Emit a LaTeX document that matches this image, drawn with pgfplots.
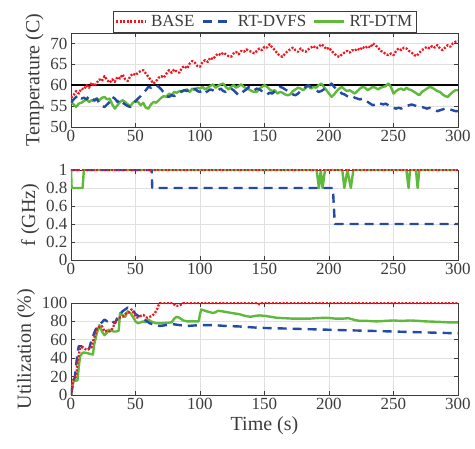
\documentclass[border=0pt]{standalone}
\usepackage{fontspec}
\setmainfont{Liberation Serif}
\usepackage{pgfplots}
\pgfplotsset{compat=1.18}
\definecolor{cred}{RGB}{245,20,30}
\definecolor{cblue}{RGB}{35,75,165}
\definecolor{cgreen}{RGB}{95,185,60}
\definecolor{axc}{RGB}{60,60,60}
\pgfplotsset{myax/.style={scale only axis, width=387pt, xmin=0, xmax=300,
  xtick={0,50,...,300}, grid=major, grid style={black!12, line width=0.7pt},
  axis line style={axc, line width=0.8pt}, tick align=inside, tick style={axc, line width=0.8pt},
  major tick length=4pt,
  ticklabel style={font=\fontsize{17}{17}\selectfont, text=axc},
  label style={font=\fontsize{20}{20}\selectfont, text=axc},
  /pgf/number format/assume math mode=true,
  every axis plot/.append style={line join=round}},
  pbase/.style={cred, line width=2.3pt, dash pattern=on 2pt off 1.6pt},
  pdvfs/.style={cblue, line width=2.4pt, dash pattern=on 9pt off 6pt},
  pdtm/.style={cgreen, line width=2.4pt}}
\begin{document}
\begin{tikzpicture}
\path[use as bounding box] (0,0) rectangle (475pt,449pt);
% ---------------- Temperature ----------------
\begin{axis}[myax, at={(71pt,322pt)}, anchor=south west, height=94pt,
  ymin=50, ymax=72.5, ytick={50,55,...,70}, ylabel={Temperature (C)},
  legend style={at={(0.5,1)}, anchor=south, yshift=1pt, legend columns=3, draw=axc,
    font=\fontsize{17}{17}\selectfont, text=axc, inner sep=2pt,
    /tikz/every odd column/.append style={column sep=2pt},
    /tikz/every even column/.append style={column sep=5pt}},
  legend image code/.code={\draw[#1] (0pt,0pt) -- (30pt,0pt);}]
\addplot[black, line width=2pt, forget plot] coordinates {(0,60) (300,60)};
\addplot[pdtm, forget plot] coordinates {
(0,56.0)(2,55.4)(4,54.8)(6,55.6)(8,55.8)(10,56.2)(12,56.6)(14,56.0)(16,56.4)(18,56.2)
(20,56.8)(22,56.4)(24,57.0)(26,57.2)(28,56.6)(30,56.8)(32,55.4)(34,54.4)(36,55.2)(38,56.0)
(40,56.4)(42,56.0)(44,55.4)(46,55.0)(48,55.8)(50,56.2)(52,56.0)(54,55.2)(56,55.8)(58,54.6)
(60,54.4)(62,55.4)(64,56.0)(66,55.8)(68,56.4)(70,57.0)(72,57.4)(74,57.2)(76,58.0)(78,57.6)
(80,58.4)(82,58.2)(84,58.6)(86,58.4)(88,58.8)(90,59.0)(92,58.4)(94,59.2)(96,58.8)(98,59.4)
(100,59.2)(102,59.6)(104,59.0)(106,59.4)(108,59.8)(110,60.2)(112,59.4)(114,59.8)(116,60.2)(118,60.4)
(120,59.6)(122,59.0)(124,59.6)(126,60.0)(128,59.4)(130,59.8)(132,60.2)(134,59.6)(136,59.2)(138,59.0)
(140,58.6)(142,58.4)(144,58.4)(146,59.2)(148,59.6)(150,60.0)(152,59.6)(154,59.0)(156,58.6)(158,58.8)
(160,58.0)(162,58.4)(164,58.2)(166,57.8)(168,57.6)(170,57.8)(172,58.6)(174,59.0)(176,59.4)(178,59.2)
(180,58.8)(182,59.4)(184,59.8)(186,59.2)(188,59.6)(190,59.4)(192,60.0)(194,60.4)(196,59.6)(198,58.8)
(200,58.0)(202,57.2)(204,57.8)(206,58.6)(208,59.2)(210,59.6)(212,59.0)(214,58.6)(216,58.8)(218,58.4)
(220,58.0)(222,58.6)(224,59.2)(226,59.6)(228,59.4)(230,58.8)(232,59.2)(234,59.6)(236,59.4)(238,59.0)
(240,59.4)(242,59.6)(244,59.8)(246,60.4)(248,59.6)(250,58.0)(252,58.6)(254,59.0)(256,59.2)(258,58.8)
(260,59.4)(262,59.0)(264,58.8)(266,58.4)(268,58.0)(270,57.6)(272,58.4)(274,58.8)(276,59.2)(278,59.6)
(280,59.4)(282,59.0)(284,58.6)(286,58.4)(288,57.8)(290,57.4)(292,57.2)(294,57.8)(296,58.4)(298,58.8)(300,58.8)};
\addplot[pdvfs, forget plot] coordinates {
(0,55.8)(2,56.6)(4,57.2)(6,57.6)(8,56.8)(10,57.0)(12,56.6)(14,57.4)(16,57.0)(18,56.4)
(20,56.8)(22,55.6)(24,55.0)(26,54.8)(28,55.4)(30,56.0)(32,57.2)(34,56.8)(36,56.0)(38,56.6)
(40,55.8)(42,55.4)(44,55.0)(46,54.8)(48,55.6)(50,56.2)(52,56.8)(54,57.4)(56,58.2)(58,58.8)
(60,59.6)(62,59.4)(64,59.8)(66,60.0)(68,59.6)(70,59.0)(72,58.2)(74,57.4)(76,57.2)(78,57.6)
(80,57.4)(82,57.8)(84,58.2)(86,58.6)(88,58.8)(90,58.6)(92,59.0)(94,58.8)(96,59.2)(98,58.6)
(100,58.4)(102,58.8)(104,58.2)(106,58.6)(108,59.0)(110,58.8)(112,58.4)(114,58.8)(116,59.2)(118,58.6)
(120,58.4)(122,58.8)(124,59.2)(126,58.8)(128,58.2)(130,57.6)(132,58.0)(134,58.6)(136,59.0)(138,59.6)
(140,59.2)(142,58.8)(144,59.2)(146,59.0)(148,58.6)(150,58.4)(152,57.8)(154,58.2)(156,58.0)(158,58.6)
(160,59.2)(162,59.6)(164,59.4)(166,59.0)(168,58.6)(170,58.2)(172,57.8)(174,57.6)(176,58.0)(178,58.6)
(180,59.0)(182,59.6)(184,60.0)(186,59.6)(188,59.2)(190,58.8)(192,58.4)(194,58.6)(196,59.0)(198,59.4)
(200,59.8)(202,60.4)(204,59.6)(206,59.0)(208,58.6)(210,58.0)(212,57.8)(214,57.4)(216,57.2)(218,57.4)
(220,57.0)(222,56.8)(224,56.6)(226,56.8)(228,56.4)(230,56.0)(232,55.6)(234,55.2)(236,55.4)(238,55.8)
(240,55.6)(242,55.4)(244,55.6)(246,55.2)(248,55.0)(250,54.6)(252,54.4)(254,54.6)(256,54.4)(258,54.8)
(260,55.0)(262,55.2)(264,55.4)(266,55.2)(268,55.0)(270,55.0)(272,54.8)(274,54.6)(276,54.4)(278,54.6)
(280,54.2)(282,54.0)(284,53.8)(286,54.0)(288,54.2)(290,54.4)(292,54.4)(294,54.2)(296,54.0)(298,53.8)(300,53.8)};
\addplot[pbase, forget plot] coordinates {
(0,57.0)(2,57.6)(4,58.6)(6,58.0)(8,59.2)(10,59.0)(12,60.0)(14,59.4)(16,60.6)(18,59.8)
(20,60.6)(22,61.4)(24,61.0)(26,62.2)(28,61.2)(30,60.6)(32,61.4)(34,60.8)(36,62.0)(38,61.6)
(40,62.6)(42,61.4)(44,61.0)(46,62.2)(48,62.8)(50,62.4)(52,63.0)(54,63.4)(56,63.6)(58,62.8)
(60,62.0)(62,61.2)(64,60.4)(66,61.0)(68,61.8)(70,62.2)(72,61.8)(74,62.8)(76,63.6)(78,63.0)
(80,63.8)(82,63.2)(84,63.0)(86,64.2)(88,64.6)(90,64.0)(92,65.2)(94,65.8)(96,65.4)(98,64.6)
(100,64.4)(102,65.6)(104,66.0)(106,65.6)(108,66.6)(110,66.2)(112,67.0)(114,67.6)(116,67.2)(118,67.8)
(120,67.4)(122,67.0)(124,66.8)(126,67.6)(128,68.0)(130,67.4)(132,68.2)(134,68.0)(136,68.6)(138,68.2)
(140,68.0)(142,67.6)(144,68.2)(146,68.8)(148,68.4)(150,69.2)(152,69.0)(154,69.8)(156,69.0)(158,68.4)
(160,67.6)(162,67.0)(164,66.8)(166,67.6)(168,68.2)(170,68.6)(172,69.0)(174,68.4)(176,68.0)(178,68.8)
(180,68.2)(182,68.0)(184,68.6)(186,69.0)(188,69.4)(190,68.8)(192,69.2)(194,69.8)(196,69.4)(198,68.6)
(200,69.0)(202,68.2)(204,67.6)(206,67.0)(208,66.8)(210,67.4)(212,67.8)(214,68.2)(216,67.8)(218,68.4)
(220,68.2)(222,68.8)(224,68.4)(226,69.2)(228,68.8)(230,69.4)(232,69.0)(234,70.0)(236,69.6)(238,69.0)
(240,68.2)(242,68.0)(244,67.4)(246,67.2)(248,67.6)(250,67.2)(252,68.2)(254,68.8)(256,68.4)(258,69.0)
(260,68.8)(262,68.2)(264,67.8)(266,67.2)(268,67.0)(270,67.8)(272,68.4)(274,68.8)(276,69.2)(278,68.8)
(280,69.4)(282,69.0)(284,69.6)(286,68.8)(288,68.4)(290,69.0)(292,69.6)(294,69.2)(296,70.0)(298,70.4)(300,70.6)};
\addlegendimage{pbase}\addlegendentry{BASE}
\addlegendimage{pdvfs}\addlegendentry{RT-DVFS}
\addlegendimage{pdtm}\addlegendentry{RT-DTM}
\end{axis}
% ---------------- Frequency ----------------
\begin{axis}[myax, at={(71pt,189pt)}, anchor=south west, height=90pt,
  ymin=0, ymax=1, ytick={0,0.2,...,1}, ylabel={f (GHz)}]
\addplot[pdtm] coordinates {(0,1)(0.5,0.8)(9,0.8)(10,1)(190.4,1)(192.2,0.8)(193.6,1)(195,0.8)(196.9,1)
(210.3,1)(211.9,0.8)(214.3,1)(216.9,0.8)(218.9,1)(260,1)(261.7,0.8)(262.8,1)(267.4,1)(268.7,0.8)(270,1)(300,1)};
\addplot[pdvfs] coordinates {(0,1)(62.5,1)(63,0.8)(203,0.8)(204.5,0.4)(300,0.4)};
\addplot[pbase] coordinates {(0,1)(300,1)};
\end{axis}
% ---------------- Utilization ----------------
\begin{axis}[myax, at={(71pt,54pt)}, anchor=south west, height=92pt,
  ymin=0, ymax=100, ytick={0,20,...,100}, ylabel={Utilization (\%)}, xlabel={Time (s)}]
\addplot[pdtm] coordinates {(0,0)(1,9)(2,15)(5,16)(6,30)(7,42)(9,46)(11,46)(14,45)(17,44)(18,55)(20,67)(22,76)(24,69)(26,65)(28,68)(29,71)(31,70)(33,69)(35,69)(37,70)(38,89)(40,87)(42,85)(44,91)(46,89)(48,85)(50,80)(52,78)(54,79)(56,80)(58,79)(60,82)(62,80)(64,79)(66,78)(70,78)(75,78.5)(78,79)(80,83)(82,85)(84,84)(87,81)(90,80)(95,80)(99,80)(100,88)(101,93)(103,92)(105,91)(108,90)(110,89)(112,90)(114,91.5)(117,91)(121,90)(125,89)(130,88)(135,86)(139,85)(143,86)(146,86.5)(150,86)(155,85)(159,84)(165,83.5)(172,83)(180,83)(185,83)(190,83.5)(198,84)(205,83)(211,83)(215,83.5)(220,81.5)(224,80.5)(230,80.5)(237,80)(243,80.5)(250,81)(256,80.5)(263,81)(270,80.5)(275,80)(285,79.5)(292,79)(300,79)};
\addplot[pdvfs] coordinates {(0,0)(1,8)(3,20)(5,45)(6,53)(8,53)(11,49)(14,50)(16,60)(19,71)(22,76)(24,79)(26,82)(28,80)(30,82)(32,80)(34,78)(36,84)(38,88)(40,91)(42,93)(44,95)(46,94)(48,92)(50,88)(52,86)(54,85)(56,84)(58,81)(61,78)(65,76)(69,75)(74,76)(79,77)(84,76)(90,75)(95,75.5)(100,76)(110,76)(120,75)(130,74.5)(146,73)(160,72.5)(172,72)(185,71.5)(198,71)(210,70.5)(224,70)(237,69.5)(250,69)(262,68.5)(275,68)(288,67.5)(300,67)};
\addplot[pbase] coordinates {(0,0)(1,10)(2,18)(4,20)(5,35)(7,51)(9,52)(12,49)(14,50)(16,52)(17,58)(20,71)(22,74)(24,75)(26,69)(28,70)(30,69)(32,72)(34,78)(36,82)(37,84)(40,85)(43,89)(45,90)(47,93)(49,88)(51,84)(54,86)(56,87)(59,84)(61,85)(63,86)(65,89)(67,94)(68,98)(69,100)(79,100)(81,97)(84,97)(87,100)(145,100)(146,98.5)(148,100)(300,100)};
\end{axis}
\end{tikzpicture}
\end{document}
